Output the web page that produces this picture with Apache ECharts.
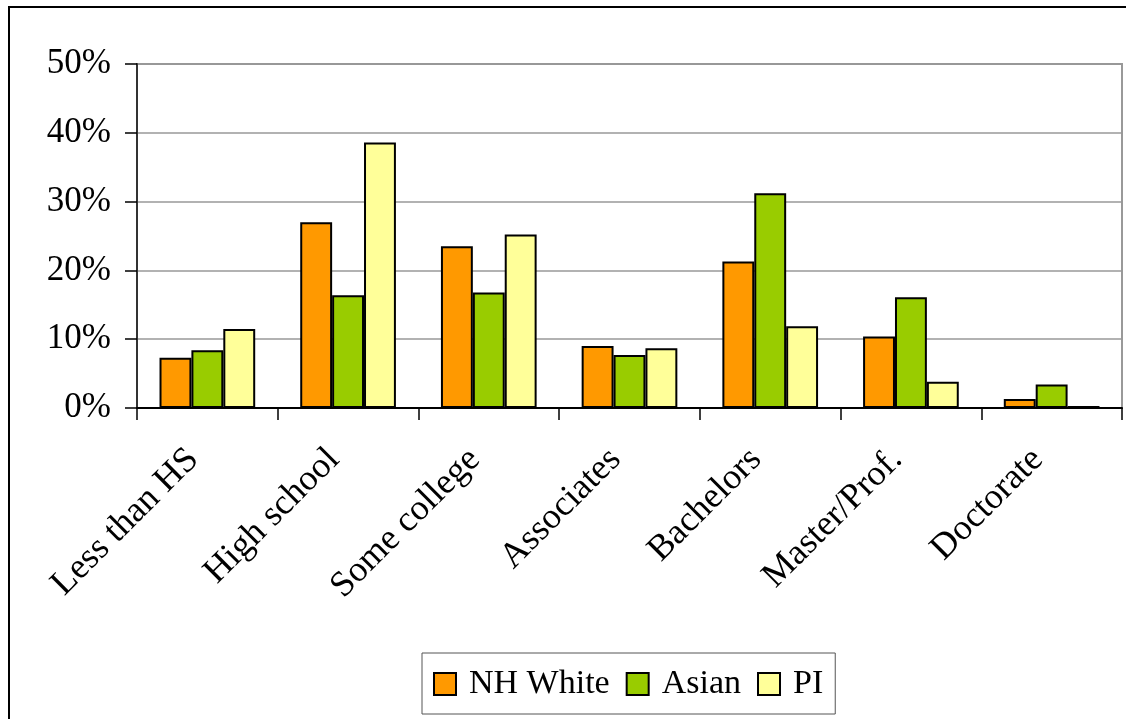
<!DOCTYPE html>
<html>
<head>
<meta charset="utf-8">
<script src="https://cdn.jsdelivr.net/npm/echarts@6/dist/echarts.min.js"></script>
<style>
html,body{margin:0;padding:0;background:#fff;}
#chart{width:1126px;height:719px;}
</style>
</head>
<body>
<div id="chart"></div>
<script>
const categories = ['Less than HS','High school','Some college','Associates','Bachelors','Master/Prof.','Doctorate'];
const seriesNames = ['NH White','Asian','PI'];
const nhWhite = [7.3, 27.0, 23.5, 9.0, 21.3, 10.4, 1.3];
const asian   = [8.4, 16.4, 16.8, 7.7, 31.2, 16.1, 3.4];
const pi      = [11.5, 38.6, 25.2, 8.7, 11.9, 3.8, 0.3];
const yTicks = [0, 10, 20, 30, 40, 50];
const colors = ['#FF9900', '#99CC00', '#FFFF99'];

const font = 'Liberation Serif';
const legendText = {fontFamily: font, fontSize: 34, color: '#000', padding: [0, 0, 0, 8]};
const chart = echarts.init(document.getElementById('chart'));
const values = [nhWhite, asian, pi];
chart.setOption({
  animation: false,
  backgroundColor: '#fff',
  textStyle: {fontFamily: font},
  graphic: [{
    type: 'rect', z: -1,
    shape: {x: 9, y: 7, width: 1200, height: 800},
    style: {fill: 'none', stroke: '#000', lineWidth: 2}
  }],
  grid: {left: 137, right: 4, top: 64, bottom: 311, show: true, borderColor: '#999', borderWidth: 2, backgroundColor: 'transparent'},
  legend: {
    show: true,
    orient: 'horizontal',
    left: 422, top: 653,
    data: seriesNames,
    itemWidth: 22, itemHeight: 22, itemGap: 16,
    padding: [14, 12, 13, 11],
    borderColor: '#555', borderWidth: 1,
    icon: 'rect',
    itemStyle: {borderColor: '#000', borderWidth: 2},
    textStyle: legendText
  },
  xAxis: {
    type: 'category',
    data: categories,
    axisLine: {lineStyle: {color: '#000', width: 2}},
    axisTick: {show: true, length: 12, lineStyle: {color: '#000', width: 1.5}},
    axisLabel: {rotate: 45, fontFamily: font, fontSize: 36, color: '#000', margin: 32, padding: [0, 20, 0, 0], interval: 0}
  },
  yAxis: {
    type: 'value',
    min: yTicks[0], max: yTicks[yTicks.length-1], interval: 10,
    axisLine: {show: true, lineStyle: {color: '#333', width: 2}},
    axisTick: {show: true, length: 12, lineStyle: {color: '#000', width: 1.5}},
    axisLabel: {fontFamily: font, fontSize: 35, color: '#000', margin: 26, formatter: '{value}%'},
    splitLine: {lineStyle: {color: '#999', width: 1.5}}
  },
  series: values.map((v, i) => ({
    name: seriesNames[i],
    type: 'bar',
    data: v,
    barGap: '0%',
    barCategoryGap: '32%',
    itemStyle: {color: colors[i], borderColor: '#000', borderWidth: 2}
  }))
});
</script>
</body>
</html>
